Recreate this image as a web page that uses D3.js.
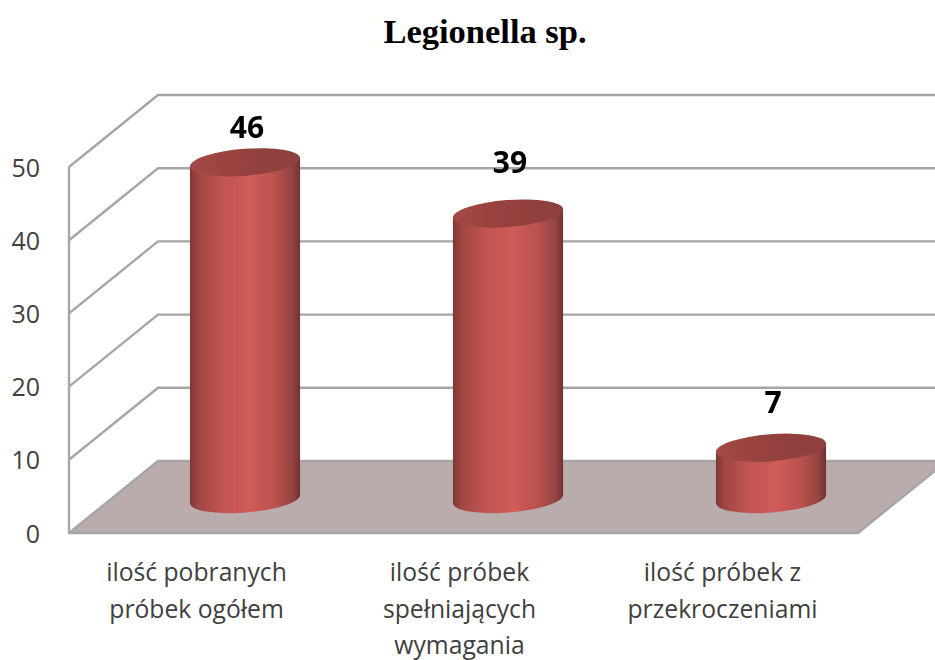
<!DOCTYPE html>
<html>
<head>
<meta charset="utf-8">
<script src="https://cdn.jsdelivr.net/npm/d3@7"></script>
<style>
  html, body { margin: 0; padding: 0; background: #fff; }
  svg { display: block; }
</style>
</head>
<body>
<div class="canvas"></div>
<script>
// data
const title = 'Legionella sp.';
const categories = ['ilość pobranych próbek ogółem', 'ilość próbek spełniających wymagania', 'ilość próbek z przekroczeniami'];
const categoryLines = [
    ['ilość pobranych', 'próbek ogółem'],
    ['ilość próbek', 'spełniających', 'wymagania'],
    ['ilość próbek z', 'przekroczeniami']
];
const values = [46, 39, 7];
const yTicks = [0, 10, 20, 30, 40, 50];

const svg = d3.select('.canvas')
    .append('svg')
    .attr('width', 935)
    .attr('height', 660);

// front plane of the 3d box + depth offset to the back wall
const plotLeft = 69, plotRight = 858, plotBottom = 533, plotTop = 167;
const depthX = 89, depthY = -72;

const x = d3.scaleBand().domain(categories).range([plotLeft, plotRight]);
const y = d3.scaleLinear().domain([0, 50]).range([plotBottom, plotTop]);

const defs = svg.append('defs');

const soft = defs.append('filter').attr('id', 'soft');
soft.append('feGaussianBlur').attr('stdDeviation', 0.6);

const body = defs.append('linearGradient').attr('id', 'cylBody');
[[0, '#7c3836'], [0.08, '#a24643'], [0.3, '#c05552'], [0.55, '#cf5c59'], [0.78, '#b8514e'], [0.93, '#944442'], [1, '#733130']]
    .forEach(s => body.append('stop').attr('offset', s[0]).attr('stop-color', s[1]));

const cap = defs.append('linearGradient').attr('id', 'cylTop');
[[0, '#a54846'], [0.4, '#97423f'], [1, '#8c3f3d']]
    .forEach(s => cap.append('stop').attr('offset', s[0]).attr('stop-color', s[1]));

// title
svg.append('text')
    .attr('x', 485)
    .attr('y', 43)
    .attr('text-anchor', 'middle')
    .attr('font-family', '"Liberation Serif"')
    .attr('font-weight', 'bold')
    .attr('font-size', 34.5)
    .attr('fill', '#000')
    .text(title);

const walls = svg.append('g').attr('filter', 'url(#soft)');

// floor
walls.append('polygon')
    .attr('points', [
        [plotLeft, y(0)],
        [plotLeft + depthX, y(0) + depthY],
        [plotRight + depthX, y(0) + depthY],
        [plotRight, y(0)]
    ].join(' '))
    .attr('fill', '#baacac');

// gridlines go from the front edge to the back wall and across
walls.selectAll('polyline.grid')
    .data(yTicks)
    .enter()
    .append('polyline')
    .attr('class', 'grid')
    .attr('points', d => [
        [plotLeft, y(d)],
        [plotLeft + depthX, y(d) + depthY],
        [plotRight + depthX, y(d) + depthY]
    ].join(' '))
    .attr('fill', 'none')
    .attr('stroke', '#a6a6a6')
    .attr('stroke-width', 2.4);

// floor right edge, front line and left edge
walls.append('polyline')
    .attr('points', [
        [plotRight + depthX, y(0) + depthY],
        [plotRight, y(0)],
        [plotLeft, y(0)],
        [plotLeft, y(50)]
    ].join(' '))
    .attr('fill', 'none')
    .attr('stroke', '#a6a6a6')
    .attr('stroke-width', 2.4);

// axes
const yAxis = d3.axisLeft(y).tickValues(yTicks).tickSize(0).tickPadding(29);
const yAxisGroup = svg.append('g')
    .attr('transform', `translate(${plotLeft}, 1)`)
    .call(yAxis);
yAxisGroup.select('.domain').remove();
yAxisGroup.selectAll('text')
    .attr('font-family', '"Open Sans"')
    .attr('font-size', 25)
    .attr('fill', '#404040');

const xAxis = d3.axisBottom(x).tickSize(0).tickFormat('');
const xAxisGroup = svg.append('g')
    .attr('transform', `translate(0, ${plotBottom})`)
    .call(xAxis);
xAxisGroup.select('.domain').remove();
xAxisGroup.selectAll('.tick text').remove();
xAxisGroup.selectAll('.tick')
    .append('text')
    .attr('text-anchor', 'middle')
    .attr('font-family', '"Open Sans"')
    .attr('font-size', 24.7)
    .attr('fill', '#404040')
    .selectAll('tspan')
    .data((d, i) => categoryLines[i])
    .enter()
    .append('tspan')
    .attr('x', -4)
    .attr('y', (d, i) => 48 + i * 36.5)
    .text(d => d);

// cylinders
const rx = x.bandwidth() * 0.21, ry = 13.5, tilt = -4.5;
const cx = d => x(d) + x.bandwidth() / 2 + depthX / 2;
const floorShift = depthY / 2 + 2;
const endX = rx * Math.cos(tilt * Math.PI / 180);
const endY = rx * Math.sin(tilt * Math.PI / 180);

const bars = svg.append('g').attr('filter', 'url(#soft)')
    .selectAll('g')
    .data(categories)
    .enter()
    .append('g')
    .attr('transform', d => `translate(${cx(d)}, 0)`);

bars.append('path')
    .attr('fill', 'url(#cylBody)')
    .attr('d', (d, i) => {
        const yTop = y(values[i]) + floorShift, yBase = y(0) + floorShift;
        return `M${-endX},${yTop - endY} L${-endX},${yBase - endY} `
            + `A${rx},${ry} ${tilt} 0 0 ${endX},${yBase + endY} `
            + `L${endX},${yTop + endY} Z`;
    });

bars.append('ellipse')
    .attr('rx', rx)
    .attr('ry', ry)
    .attr('fill', 'url(#cylTop)')
    .attr('transform', (d, i) => `translate(0, ${y(values[i]) + floorShift}) rotate(${tilt})`);

// value labels sit at uneven heights in the source chart
const labelLift = [35, 51, 46];
svg.append('g')
    .selectAll('text')
    .data(values)
    .enter()
    .append('text')
    .attr('x', (d, i) => cx(categories[i]) + 2)
    .attr('y', (d, i) => y(d) + floorShift - labelLift[i])
    .attr('dy', '0.36em')
    .attr('text-anchor', 'middle')
    .attr('font-family', '"Open Sans"')
    .attr('font-weight', 'bold')
    .attr('font-size', 30)
    .attr('fill', '#000')
    .text(d => d);
</script>
</body>
</html>
